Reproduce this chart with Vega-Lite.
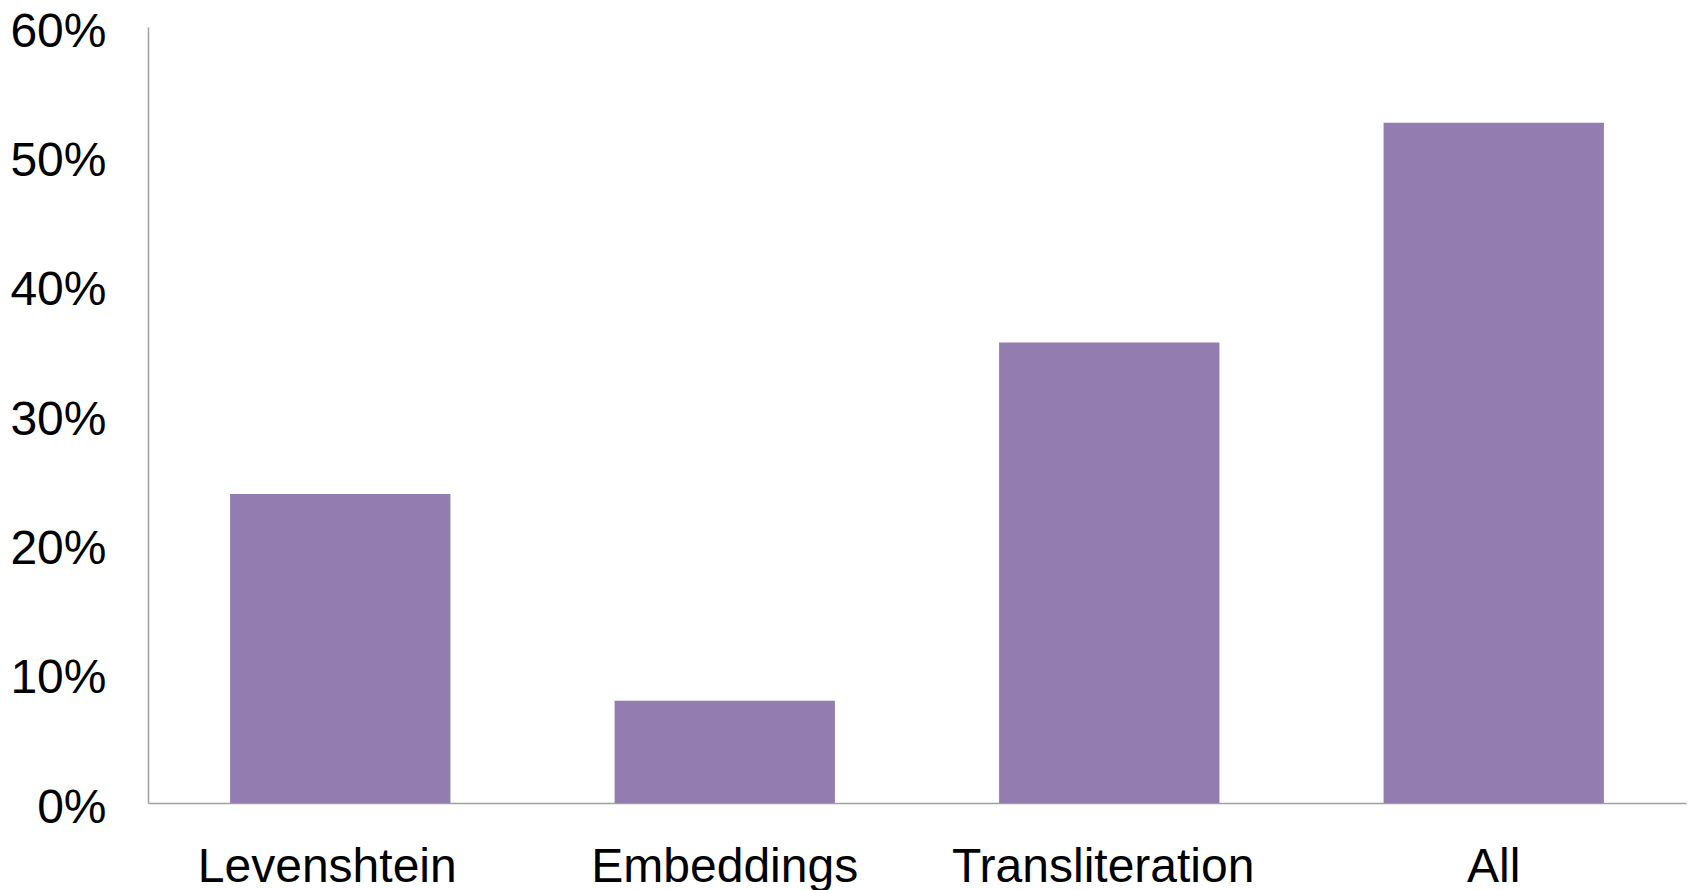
{
  "$schema": "https://vega.github.io/schema/vega-lite/v6.json",
  "autosize": {"type": "none"},
  "padding": {"left": 148, "top": 27, "right": 8, "bottom": 87},
  "width": 1538,
  "height": 776,
  "background": "white",
  "config": {"view": {"stroke": null}, "font": "Liberation Sans"},
  "data": {"values": [
    {"method": "Levenshtein", "value": 0.239},
    {"method": "Embeddings", "value": 0.079},
    {"method": "Transliteration", "value": 0.356},
    {"method": "All", "value": 0.526}
  ]},
  "mark": {"type": "bar", "color": "#937cb0"},
  "encoding": {
    "x": {
      "field": "method", "type": "nominal", "sort": null,
      "scale": {"paddingInner": 0.427, "paddingOuter": 0.2135},
      "axis": {
        "title": null, "labelAngle": 0, "labelFont": "Liberation Sans", "labelFontSize": 48,
        "labelColor": "black", "labelBaseline": "alphabetic", "labelPadding": 78,
        "ticks": false, "domainColor": "#a0a0a0", "domainWidth": 1.5, "labelLimit": 0,
        "labelOffset": {"condition": [
          {"test": "datum.value === 'Levenshtein'", "value": -13},
          {"test": "datum.value === 'Transliteration'", "value": -6}
        ], "value": 0}
      }
    },
    "y": {
      "field": "value", "type": "quantitative",
      "scale": {"domain": [0, 0.6], "nice": false},
      "axis": {
        "title": null, "format": ".0%", "values": [0, 0.1, 0.2, 0.3, 0.4, 0.5, 0.6],
        "labelFont": "Liberation Sans", "labelFontSize": 48, "labelColor": "black",
        "labelPadding": 42, "ticks": false, "grid": false, "labelOffset": 5,
        "domainColor": "#a0a0a0", "domainWidth": 1.5, "labelBaseline": "middle"
      }
    }
  }
}
